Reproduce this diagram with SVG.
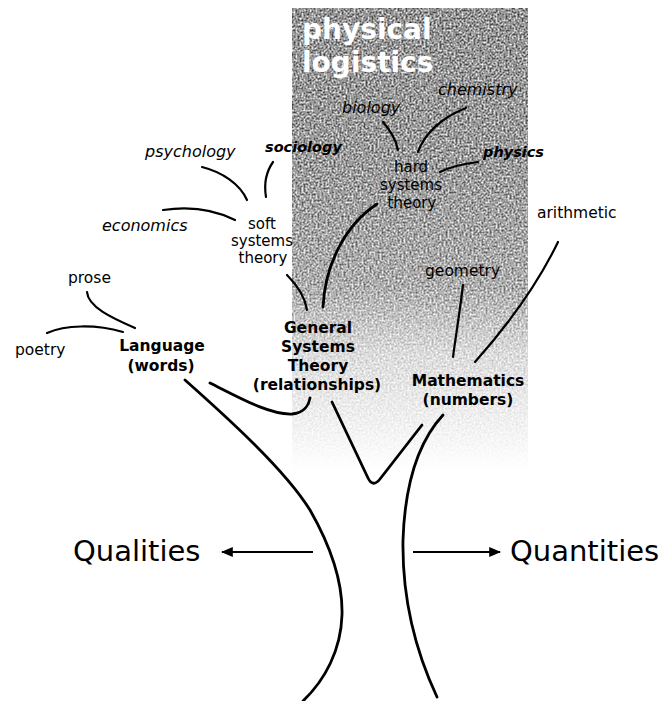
<svg xmlns="http://www.w3.org/2000/svg" width="664" height="701" viewBox="0 0 664 701">
<style>
.title{font-family:"DejaVu Sans",sans-serif;font-weight:bold;font-size:28px;fill:#fff}
.r{font-family:"DejaVu Sans",sans-serif;font-size:15.5px;fill:#000}
.rc{font-family:"DejaVu Sans",sans-serif;font-size:15px;fill:#000;text-anchor:middle}
.i{font-family:"DejaVu Sans",sans-serif;font-style:italic;font-size:16px;fill:#000}
.bi{font-family:"DejaVu Sans",sans-serif;font-style:italic;font-weight:bold;font-size:14.5px;fill:#000}
.b{font-family:"DejaVu Sans",sans-serif;font-weight:bold;font-size:15.5px;fill:#000;text-anchor:middle}
.big{font-family:"DejaVu Sans",sans-serif;font-size:29px;fill:#000}
.c{fill:none;stroke:#000;stroke-width:2.2;stroke-linecap:round;stroke-linejoin:round}
.t{fill:none;stroke:#000;stroke-width:2.8;stroke-linecap:round;stroke-linejoin:round}
.a{fill:none;stroke:#000;stroke-width:2}
</style>
<defs>
<linearGradient id="gfill" x1="0" y1="0" x2="0" y2="1">
<stop offset="0" stop-color="#949494"/>
<stop offset="0.35" stop-color="#9c9c9c"/>
<stop offset="0.6" stop-color="#adadad"/>
<stop offset="0.75" stop-color="#dcdcdc"/>
<stop offset="1" stop-color="#ffffff"/>
</linearGradient>
<filter id="grain" x="0" y="0" width="1" height="1" color-interpolation-filters="sRGB">
<feTurbulence type="fractalNoise" baseFrequency="0.5" numOctaves="3" seed="4" result="t"/>
<feColorMatrix in="t" type="matrix" values="1.6 0 0 0 -0.3  1.6 0 0 0 -0.3  1.6 0 0 0 -0.3  0 0 0 0 1" result="n"/>
<feComposite in="n" in2="SourceGraphic" operator="arithmetic" k1="-2" k2="2" k3="2" k4="-1"/>
</filter>
<marker id="ah" viewBox="0 0 10 10" refX="9" refY="5" markerWidth="12" markerHeight="10" markerUnits="userSpaceOnUse" orient="auto" preserveAspectRatio="none">
<path d="M0,0 L10,5 L0,10 z" fill="#000"/>
</marker>
</defs>
<rect width="664" height="701" fill="#fff"/>
<g id="background-panel">
<rect x="292" y="8" width="236" height="462" fill="url(#gfill)" filter="url(#grain)"/>
</g>
<g id="connectors">
<path class="c" d="M202,167 C222,172 240,184 247,200"/>
<path class="c" d="M273,162 C266,172 264,185 266,197"/>
<path class="c" d="M163,210 C190,206 215,210 235,220"/>
<path class="c" d="M287,275 C297,285 305,297 307,310"/>
<path class="t" d="M377,204 C345,225 325,265 323,307"/>
<path class="c" d="M383,122 C390,130 396,140 398,150"/>
<path class="c" d="M466,108 C440,118 424,135 418,152"/>
<path class="c" d="M478,162 C462,164 450,167 440,172"/>
<path class="c" d="M87,292 C88,307 112,318 135,328"/>
<path class="c" d="M47,333 C65,325 95,324 123,332"/>
<path class="t" d="M210,383 C240,398 270,415 292,414 C305,413 309,404 310,398"/>
<path class="c" d="M463,285 C460,310 456,335 453,357"/>
<path class="c" d="M558,242 Q530,300 475,362"/>
<path class="t" d="M185,380 C230,420 285,470 310,510 C330,545 343,580 342,615 C341,650 325,680 303,701"/>
<path class="t" d="M332,402 L368,478 Q373,488 380,479 L422,425"/>
<path class="t" d="M443,415 C420,440 405,480 403,540 C402,600 415,650 437,697"/>
<path class="a" d="M313,552 L222,552" marker-end="url(#ah)"/>
<path class="a" d="M413,552 L500,552" marker-end="url(#ah)"/>
</g>
<g id="physical-logistics"><text class="title" x="302" y="39">physical</text><text class="title" x="302" y="72">logistics</text></g>
<g id="chemistry"><text class="i" x="438" y="95">chemistry</text></g>
<g id="biology"><text class="i" x="342" y="113">biology</text></g>
<g id="sociology"><text class="bi" x="265" y="152">sociology</text></g>
<g id="psychology"><text class="i" x="145" y="157">psychology</text></g>
<g id="physics"><text class="bi" x="483" y="157">physics</text></g>
<g id="hard-systems-theory"><text class="rc" x="411" y="172">hard</text><text class="rc" x="411" y="190">systems</text><text class="rc" x="412" y="208">theory</text></g>
<g id="economics"><text class="i" x="102" y="231">economics</text></g>
<g id="soft-systems-theory"><text class="rc" x="262" y="229">soft</text><text class="rc" x="262" y="246">systems</text><text class="rc" x="263" y="263">theory</text></g>
<g id="arithmetic"><text class="r" x="537" y="218">arithmetic</text></g>
<g id="geometry"><text class="r" x="425" y="276">geometry</text></g>
<g id="prose"><text class="r" x="68" y="283">prose</text></g>
<g id="poetry"><text class="r" x="15" y="355">poetry</text></g>
<g id="language"><text class="b" x="162" y="351">Language</text><text class="b" x="161" y="371">(words)</text></g>
<g id="general-systems-theory"><text class="b" x="318" y="333">General</text><text class="b" x="318" y="352">Systems</text><text class="b" x="318" y="371">Theory</text><text class="b" x="317" y="390">(relationships)</text></g>
<g id="mathematics"><text class="b" x="468" y="386">Mathematics</text><text class="b" x="468" y="405">(numbers)</text></g>
<g id="qualities"><text class="big" x="73" y="561">Qualities</text></g>
<g id="quantities"><text class="big" x="510" y="561">Quantities</text></g>
</svg>
